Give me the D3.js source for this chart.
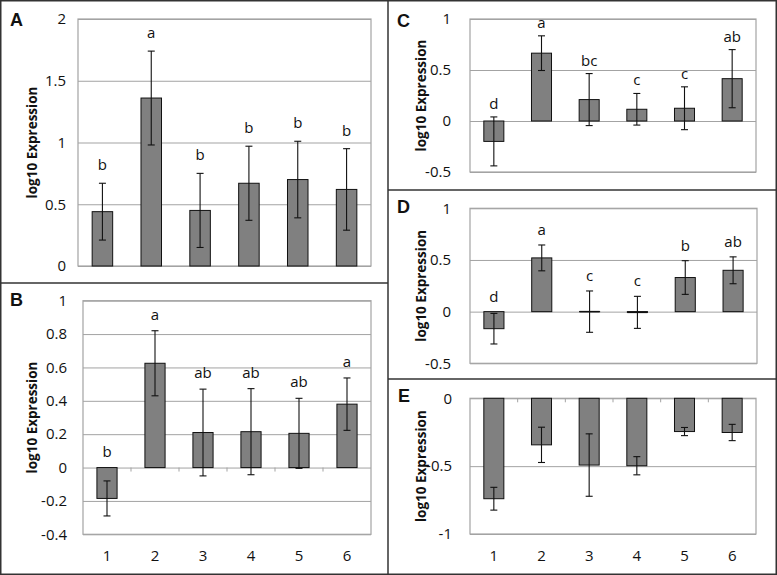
<!DOCTYPE html>
<html>
<head>
<meta charset="utf-8">
<script src="https://cdn.jsdelivr.net/npm/d3@7"></script>
<style>
  html, body { margin: 0; padding: 0; background: #fff; }
  svg { display: block; }
</style>
</head>
<body>
<svg id="chart" width="777" height="575"></svg>
<script>
// ---------- DATA ----------
const categories = ["1", "2", "3", "4", "5", "6"];

const valuesA = [0.44, 1.36, 0.45, 0.67, 0.70, 0.62];
const errorsA = [0.23, 0.38, 0.30, 0.30, 0.31, 0.33];
const lettersA = ["b", "a", "b", "b", "b", "b"];
const ticksA = [0, 0.5, 1, 1.5, 2];

const valuesB = [-0.185, 0.625, 0.21, 0.215, 0.205, 0.38];
const errorsB = [0.105, 0.195, 0.26, 0.258, 0.21, 0.157];
const lettersB = ["b", "a", "ab", "ab", "ab", "a"];
const ticksB = [-0.4, -0.2, 0, 0.2, 0.4, 0.6, 0.8, 1];

const valuesC = [-0.20, 0.665, 0.21, 0.115, 0.125, 0.415];
const errorsC = [0.24, 0.17, 0.255, 0.155, 0.21, 0.285];
const lettersC = ["d", "a", "bc", "c", "c", "ab"];
const ticksC = [-0.5, 0, 0.5, 1];

const valuesD = [-0.165, 0.52, 0.0, -0.007, 0.33, 0.40];
const errorsD = [0.148, 0.125, 0.2, 0.155, 0.163, 0.13];
const lettersD = ["d", "a", "c", "c", "b", "ab"];
const ticksD = [-0.5, 0, 0.5, 1];

const valuesE = [-0.74, -0.343, -0.492, -0.497, -0.245, -0.252];
const errorsE = [0.084, 0.13, 0.23, 0.067, 0.03, 0.06];
const lettersE = [];
const ticksE = [-1, -0.5, 0];

const yTitle = "log10 Expression";

// ---------- LAYOUT ----------
const panels = [
  { id: "A", values: valuesA, errors: errorsA, letters: lettersA, ticks: ticksA,
    x0: 78, x1: 371, yTop: 19, yBot: 266, labelRight: 66, titleX: 32,
    idX: 10, idY: 26, letterGap: 13, xLabels: false, catTicks: false },
  { id: "B", values: valuesB, errors: errorsB, letters: lettersB, ticks: ticksB,
    x0: 83, x1: 371, yTop: 300.7, yBot: 534.3, labelRight: 67, titleX: 32,
    idX: 10, idY: 306, letterGap: 11, xLabels: true, xLabelY: 561, catTicks: true },
  { id: "C", values: valuesC, errors: errorsC, letters: lettersC, ticks: ticksC,
    x0: 470, x1: 756, yTop: 19, yBot: 172, labelRight: 451, titleX: 421,
    idX: 397, idY: 27, letterGap: 8, xLabels: false, catTicks: false },
  { id: "D", values: valuesD, errors: errorsD, letters: lettersD, ticks: ticksD,
    x0: 470, x1: 757, yTop: 208.3, yBot: 363.3, labelRight: 451, titleX: 421,
    idX: 397, idY: 213, letterGap: 10, xLabels: false, catTicks: false },
  { id: "E", values: valuesE, errors: errorsE, letters: lettersE, ticks: ticksE,
    x0: 470, x1: 756, yTop: 398.3, yBot: 534, labelRight: 452, titleX: 421,
    idX: 398, idY: 402, letterGap: 10, xLabels: true, xLabelY: 561, catTicks: true }
];

const svg = d3.select("#chart");
const gridColor = "#a3a3a3";
const barFill = "#808080";
const tickFont = "'Open Sans', 'Noto Sans', sans-serif";
const tickSize = "15px";

panels.forEach(p => {
  const g = svg.append("g");
  const ext = d3.extent(p.ticks);
  const y = d3.scaleLinear().domain(ext).range([p.yBot, p.yTop]);
  const x = d3.scaleBand().domain(categories).range([p.x0, p.x1]);
  const bw = x.bandwidth() * 0.42;

  // gridlines + tick labels via axis
  const axis = d3.axisLeft(y).tickValues(p.ticks)
    .tickFormat(d => String(+d.toFixed(2)))
    .tickSizeInner(-(p.x1 - p.x0)).tickSizeOuter(0).tickPadding(p.labelRight - p.x0);
  const ag = g.append("g").attr("transform", `translate(${p.x0},0)`).call(axis);
  ag.select(".domain").remove();
  ag.selectAll(".tick line").attr("stroke", gridColor).attr("stroke-width", 1);
  ag.selectAll(".tick text")
    .attr("x", -(p.x0 - p.labelRight))
    .attr("fill", "#111")
    .style("font-family", tickFont)
    .style("font-size", tickSize);

  // plot frame
  g.append("rect")
    .attr("x", p.x0).attr("y", p.yTop)
    .attr("width", p.x1 - p.x0).attr("height", p.yBot - p.yTop)
    .attr("fill", "none").attr("stroke", gridColor).attr("stroke-width", 1.2);

  // category tick marks on the zero axis
  if (p.catTicks) {
    const bounds = categories.map(c => x(c)).slice(1);
    g.selectAll(".cattick").data(bounds).join("line")
      .attr("x1", d => d).attr("x2", d => d)
      .attr("y1", y(0)).attr("y2", y(0) + 4)
      .attr("stroke", gridColor).attr("stroke-width", 1);
  }

  // bars
  g.selectAll(".bar").data(p.values).join("rect")
    .attr("x", (d, i) => x(categories[i]) + x.bandwidth() / 2 - bw / 2)
    .attr("y", d => y(Math.max(0, d)))
    .attr("width", bw)
    .attr("height", d => Math.max(Math.abs(y(d) - y(0)), 0.01))
    .attr("fill", barFill).attr("stroke", "#111").attr("stroke-width", 1);

  // near-zero bars drawn as a black line (e.g. D3, D4)
  p.values.forEach((v, i) => {
    if (Math.abs(y(v) - y(0)) < 2) {
      const cx = x(categories[i]) + x.bandwidth() / 2;
      g.append("line")
        .attr("x1", cx - bw / 2).attr("x2", cx + bw / 2)
        .attr("y1", y(v)).attr("y2", y(v))
        .attr("stroke", "#111").attr("stroke-width", 1.5);
    }
  });

  // error bars
  const cap = 3.5;
  p.values.forEach((v, i) => {
    const cx = x(categories[i]) + x.bandwidth() / 2;
    const e = p.errors[i];
    const eg = g.append("g").attr("stroke", "#111").attr("stroke-width", 1.1);
    eg.append("line").attr("x1", cx).attr("x2", cx).attr("y1", y(v + e)).attr("y2", y(v - e));
    eg.append("line").attr("x1", cx - cap).attr("x2", cx + cap).attr("y1", y(v + e)).attr("y2", y(v + e));
    eg.append("line").attr("x1", cx - cap).attr("x2", cx + cap).attr("y1", y(v - e)).attr("y2", y(v - e));
  });

  // significance letters
  g.selectAll(".letter").data(p.letters).join("text")
    .attr("x", (d, i) => x(categories[i]) + x.bandwidth() / 2)
    .attr("y", (d, i) => y(Math.max(0, p.values[i] + p.errors[i])) - p.letterGap)
    .attr("text-anchor", "middle")
    .attr("fill", "#111")
    .style("font-family", tickFont)
    .style("font-size", tickSize)
    .text(d => d);

  // x labels
  if (p.xLabels) {
    g.selectAll(".xl").data(categories).join("text")
      .attr("x", d => x(d) + x.bandwidth() / 2)
      .attr("y", p.xLabelY)
      .attr("text-anchor", "middle")
      .attr("fill", "#111")
      .style("font-family", tickFont)
      .style("font-size", tickSize)
      .text(d => d);
  }

  // y title
  g.append("text")
    .attr("transform", `translate(${p.titleX},${(p.yTop + p.yBot) / 2}) rotate(-90)`)
    .attr("text-anchor", "middle")
    .attr("dy", "0.35em")
    .attr("fill", "#111")
    .style("font-family", tickFont)
    .style("font-weight", "bold")
    .style("font-size", "13.5px")
    .text(yTitle);

  // panel letter
  g.append("text")
    .attr("x", p.idX).attr("y", p.idY)
    .attr("fill", "#111")
    .style("font-family", "'Liberation Sans', Arial, sans-serif")
    .style("font-weight", "bold")
    .style("font-size", "18px")
    .text(p.id);
});

// panel dividers and outer frame
const frame = svg.append("g").attr("stroke", "#333").attr("stroke-width", 1.5).attr("fill", "none");
frame.append("rect").attr("x", 0.75).attr("y", 0.75).attr("width", 775.5).attr("height", 573.5);
frame.append("line").attr("x1", 388).attr("x2", 388).attr("y1", 0).attr("y2", 575);
frame.append("line").attr("x1", 0).attr("x2", 388).attr("y1", 283).attr("y2", 283);
frame.append("line").attr("x1", 388).attr("x2", 777).attr("y1", 190).attr("y2", 190);
frame.append("line").attr("x1", 388).attr("x2", 777).attr("y1", 379).attr("y2", 379);
</script>
</body>
</html>
